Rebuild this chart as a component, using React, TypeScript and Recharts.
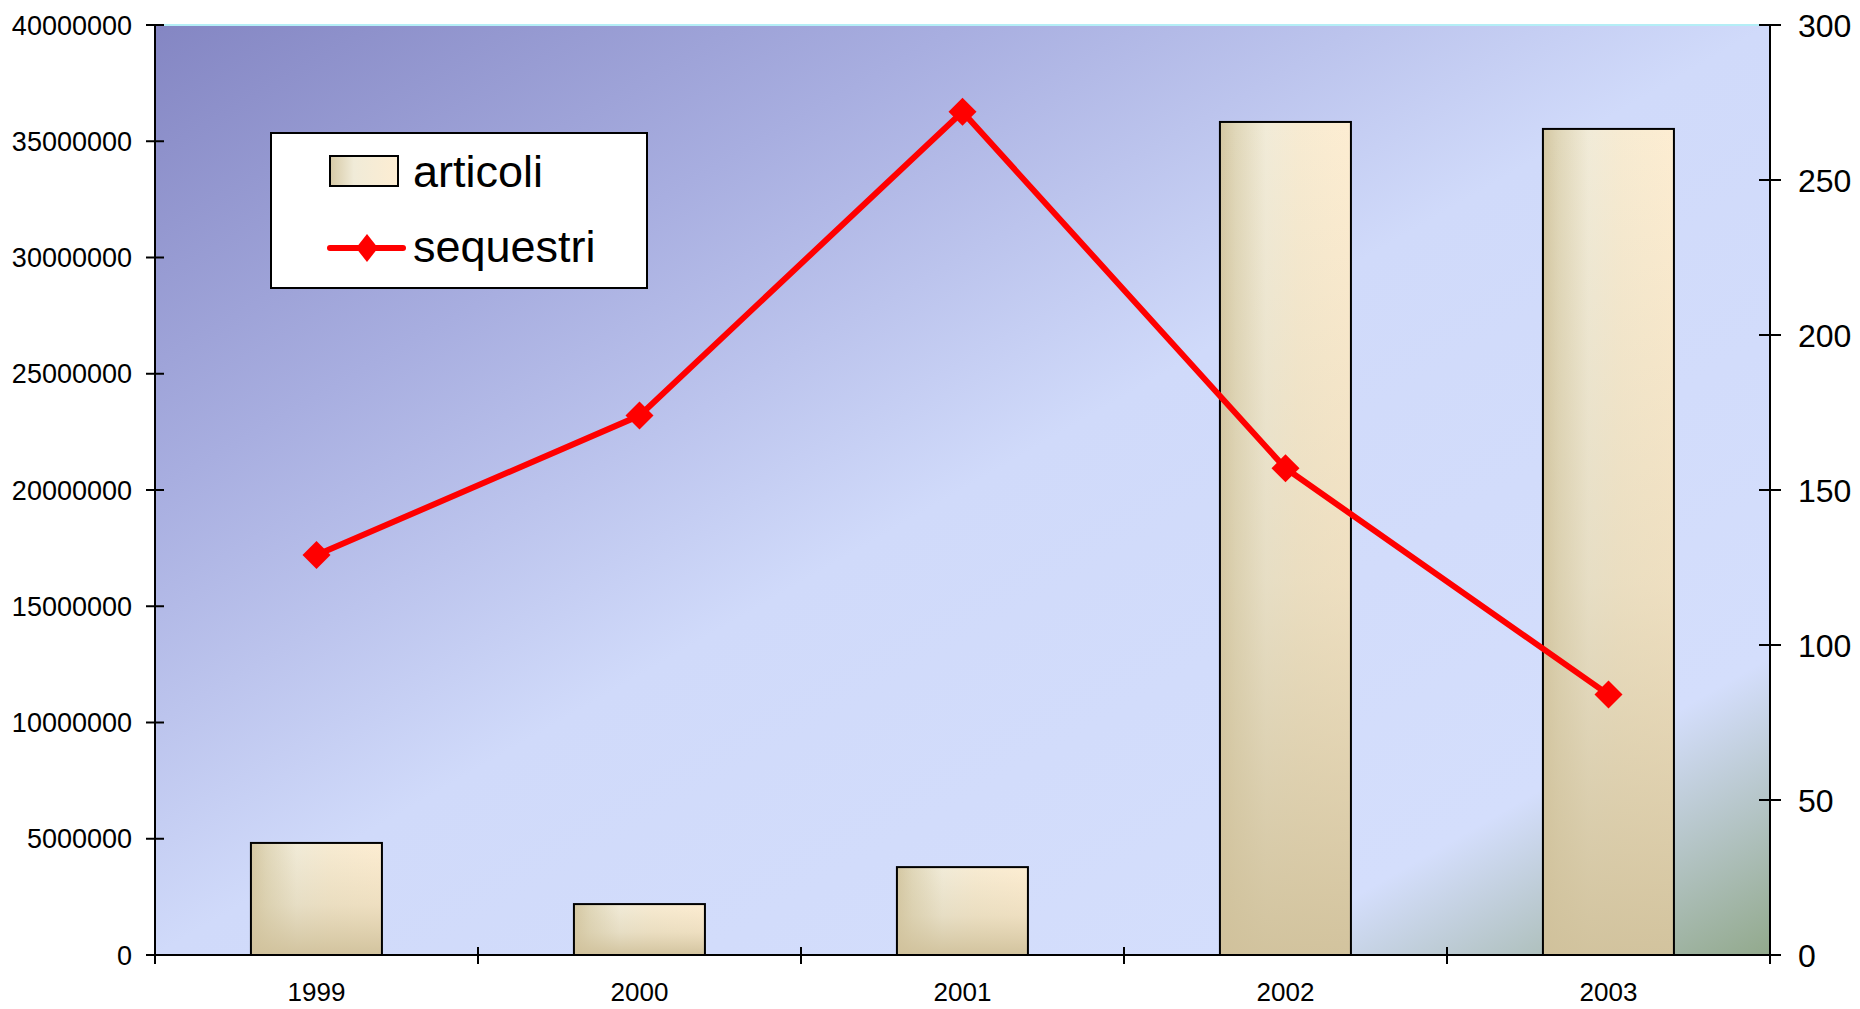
import { ComposedChart, Bar, Line, XAxis, YAxis, CartesianGrid, Legend, ReferenceLine } from 'recharts'

const YEARS = ['1999', '2000', '2001', '2002', '2003']
const ARTICOLI = [4820000, 2190000, 3780000, 35830000, 35530000]
const SEQUESTRI = [129, 174, 272, 157, 84]
const LEFT_TICKS = [0, 5000000, 10000000, 15000000, 20000000, 25000000, 30000000, 35000000, 40000000]
const RIGHT_TICKS = [0, 50, 100, 150, 200, 250, 300]

const data = YEARS.map((year, i) => ({ year, articoli: ARTICOLI[i], sequestri: SEQUESTRI[i] }))

const FONT = '"Liberation Sans", Arial, sans-serif'
const RED = '#ff0000'
const AXIS = '#000000'

const L_SIZE = 9, L_MARGIN = 14
const R_SIZE = 11, R_MARGIN = 17
const X_SIZE = 9, X_MARGIN = 19

function LeftTick(props: any) {
  const { x, y, payload } = props
  const ax = x + L_SIZE + L_MARGIN
  return (
    <g>
      <line x1={ax - 9} x2={ax + 9} y1={y} y2={y} stroke={AXIS} strokeWidth={2} />
      <text x={x} y={y} dy="0.36em" textAnchor="end" fontSize={27} fontFamily={FONT} fill="#000">
        {payload.value}
      </text>
    </g>
  )
}

function RightTick(props: any) {
  const { x, y, payload } = props
  const ax = x - R_SIZE - R_MARGIN
  return (
    <g>
      <line x1={ax - 11} x2={ax + 11} y1={y} y2={y} stroke={AXIS} strokeWidth={2} />
      <text x={x} y={y} dy="0.36em" textAnchor="start" fontSize={32} fontFamily={FONT} fill="#000">
        {payload.value}
      </text>
    </g>
  )
}

function XTick(props: any) {
  const { x, y, payload, index, visibleTicksCount } = props
  const ay = y - X_SIZE - X_MARGIN
  const width = typeof props.width === 'number' ? props.width : 1615
  const band = width / (visibleTicksCount || YEARS.length)
  const left = x - band / 2
  const right = x + band / 2
  return (
    <g>
      <line x1={left} x2={left} y1={ay - 8} y2={ay + 9} stroke={AXIS} strokeWidth={2} />
      {index === visibleTicksCount - 1 && (
        <line x1={right} x2={right} y1={ay - 8} y2={ay + 9} stroke={AXIS} strokeWidth={2} />
      )}
      <text x={x} y={y} dy="0.71em" textAnchor="middle" fontSize={26} fontFamily={FONT} fill="#000">
        {payload.value}
      </text>
    </g>
  )
}

function BarShape(props: any) {
  const { x, y, width, height } = props
  if (!height || height <= 0) return null
  return (
    <g>
      <rect x={x} y={y} width={width} height={height} fill="url(#barH)" />
      <rect x={x} y={y} width={width} height={height} fill="url(#barV)" />
      <rect x={x} y={y} width={width} height={height} fill="none" stroke="#000" strokeWidth={2} />
    </g>
  )
}

function Diamond(props: any) {
  const { cx, cy, index } = props
  if (cx == null || cy == null) return <g key={index} />
  const r = 14
  return (
    <path key={index} d={`M${cx},${cy - r} L${cx + r},${cy} L${cx},${cy + r} L${cx - r},${cy} Z`} fill={RED} />
  )
}

function LegendBox() {
  return (
    <div style={{
      position: 'relative', width: 378, height: 157, boxSizing: 'border-box',
      background: '#fff', border: '2px solid #000', fontFamily: FONT, color: '#000',
    }}>
      <svg width={140} height={157} style={{ position: 'absolute', left: 0, top: 0 }}>
        <defs>
          <linearGradient id="legBar" x1="0" y1="0" x2="1" y2="0">
            <stop offset="0%" stopColor="#d6c9a5" />
            <stop offset="35%" stopColor="#f0ebd8" />
            <stop offset="100%" stopColor="#fdedd2" />
          </linearGradient>
        </defs>
        <rect x={58} y={22} width={68} height={30} fill="url(#legBar)" stroke="#000" strokeWidth={2} />
        <line x1={58} x2={131} y1={114} y2={114} stroke={RED} strokeWidth={6} strokeLinecap="round" />
        <path d="M95,100 L106,114 L95,128 L84,114 Z" fill={RED} />
      </svg>
      <div style={{ position: 'absolute', left: 141, top: 37, transform: 'translateY(-50%)', fontSize: 45, lineHeight: 1 }}>
        articoli
      </div>
      <div style={{ position: 'absolute', left: 141, top: 112, transform: 'translateY(-50%)', fontSize: 45, lineHeight: 1 }}>
        sequestri
      </div>
    </div>
  )
}

export default function App() {
  return (
    <div style={{ position: 'absolute', left: 0, top: 0, width: 1860, height: 1009, background: '#fff' }}>
      <ComposedChart
        width={1860}
        height={1009}
        data={data}
        margin={{ top: 25, right: 0, bottom: 0, left: 0 }}
        barCategoryGap="29.7%"
      >
        <defs>
          <linearGradient id="plotBg" x1="0" y1="0" x2="1" y2="1">
            <stop offset="0%" stopColor="#8486c3" />
            <stop offset="25%" stopColor="#a8aee0" />
            <stop offset="50%" stopColor="#d0dafa" />
            <stop offset="84%" stopColor="#d4defc" />
            <stop offset="100%" stopColor="#92a98c" />
          </linearGradient>
          <linearGradient id="barH" x1="0" y1="0" x2="1" y2="0">
            <stop offset="0%" stopColor="#d4c7a2" />
            <stop offset="12%" stopColor="#e0d7b9" />
            <stop offset="35%" stopColor="#f1ebd8" />
            <stop offset="60%" stopColor="#f7ebd2" />
            <stop offset="100%" stopColor="#fdedd2" />
          </linearGradient>
          <linearGradient id="barV" x1="0" y1="0" x2="0" y2="1">
            <stop offset="0%" stopColor="#d3c5a0" stopOpacity={0} />
            <stop offset="55%" stopColor="#d3c5a0" stopOpacity={0.35} />
            <stop offset="100%" stopColor="#d0c19b" stopOpacity={0.95} />
          </linearGradient>
        </defs>
        <CartesianGrid horizontal={false} vertical={false} fill="url(#plotBg)" />
        <XAxis
          dataKey="year"
          height={54}
          interval={0}
          axisLine={{ stroke: AXIS, strokeWidth: 2 }}
          tickLine={false}
          tickSize={X_SIZE}
          tickMargin={X_MARGIN}
          tick={<XTick />}
        />
        <YAxis
          yAxisId="left"
          width={155}
          domain={[0, 40000000]}
          ticks={LEFT_TICKS}
          interval={0}
          axisLine={{ stroke: AXIS, strokeWidth: 2 }}
          tickLine={false}
          tickSize={L_SIZE}
          tickMargin={L_MARGIN}
          tick={<LeftTick />}
        />
        <YAxis
          yAxisId="right"
          orientation="right"
          width={90}
          domain={[0, 300]}
          ticks={RIGHT_TICKS}
          interval={0}
          axisLine={{ stroke: AXIS, strokeWidth: 2 }}
          tickLine={false}
          tickSize={R_SIZE}
          tickMargin={R_MARGIN}
          tick={<RightTick />}
        />
        <ReferenceLine yAxisId="left" y={40000000} stroke="#b4eef6" strokeWidth={2} />
        <Legend
          layout="horizontal"
          verticalAlign="middle"
          align="center"
          content={() => <LegendBox />}
          wrapperStyle={{ position: 'absolute', left: 270, top: 132, width: 378, height: 157, bottom: 'auto', right: 'auto' }}
        />
        <Bar
          yAxisId="left"
          dataKey="articoli"
          name="articoli"
          shape={<BarShape />}
          isAnimationActive={false}
        />
        <Line
          yAxisId="right"
          dataKey="sequestri"
          name="sequestri"
          type="linear"
          stroke={RED}
          strokeWidth={6}
          dot={(p: any) => <Diamond {...p} />}
          activeDot={false}
          isAnimationActive={false}
        />
      </ComposedChart>
    </div>
  )
}
